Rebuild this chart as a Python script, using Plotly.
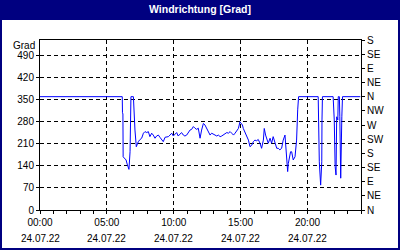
import plotly.graph_objects as go

day = "2022-07-24"
times = ["00:00", "06:09", "06:10", "06:12", "06:13", "06:21", "06:26", "06:31", "06:36", "06:39",
         "06:44", "06:47", "06:48", "06:59", "07:02", "07:06", "07:12", "07:21", "07:29", "07:36",
         "07:44", "07:51", "07:59", "08:06", "08:13", "08:21", "08:28", "08:36", "08:43", "08:51",
         "08:58", "09:06", "09:13", "09:21", "09:28", "09:36", "09:43", "09:51", "09:58", "10:05",
         "10:13", "10:20", "10:28", "10:35", "10:43", "10:50", "10:58", "11:05", "11:13", "11:20",
         "11:28", "11:35", "11:43", "11:50", "11:58", "12:05", "12:13", "12:20", "12:28", "12:35",
         "12:43", "12:50", "12:58", "13:05", "13:13", "13:20", "13:28", "13:35", "13:43", "13:50",
         "13:58", "14:05", "14:13", "14:20", "14:28", "14:35", "14:50", "14:57", "15:08", "15:12",
         "15:20", "15:27", "15:35", "15:42", "15:50", "15:57", "16:04", "16:12", "16:19", "16:27",
         "16:34", "16:42", "16:46", "16:52", "16:59", "17:04", "17:12", "17:19", "17:26", "17:34",
         "17:42", "17:49", "17:56", "18:04", "18:11", "18:19", "18:23", "18:26", "18:31", "18:34",
         "18:38", "18:44", "18:49", "18:56", "19:04", "19:11", "19:16", "19:19", "19:20", "20:48",
         "20:49", "20:53", "20:59", "21:04", "21:05", "21:07", "21:55", "21:56", "22:00", "22:04",
         "22:08", "22:11", "22:16", "22:18", "22:23", "22:25", "22:26", "22:29", "22:34", "22:37",
         "23:57"]
values = [360, 360, 309, 305, 169, 164, 159, 146, 133, 129,
          185, 275, 360, 360, 308, 254, 201, 217, 224, 228,
          244, 249, 246, 249, 233, 244, 238, 228, 235, 238,
          231, 224, 217, 231, 233, 233, 238, 244, 235, 241,
          246, 235, 241, 246, 238, 235, 238, 246, 254, 256,
          265, 260, 256, 260, 228, 254, 275, 270, 260, 249,
          238, 244, 241, 238, 235, 238, 233, 235, 238, 241,
          246, 244, 249, 244, 238, 244, 259, 280, 270, 259,
          244, 233, 222, 201, 206, 217, 222, 220, 224, 212,
          196, 222, 259, 238, 222, 212, 228, 212, 233, 217,
          196, 196, 191, 196, 222, 238, 196, 154, 122, 148,
          169, 185, 185, 159, 169, 222, 318, 349, 360, 360,
          286, 153, 79, 153, 286, 360, 360, 318, 286, 138,
          111, 296, 286, 360, 360, 296, 169, 101, 296, 360,
          360]

title = "Windrichtung [Grad]"
y_label = "Grad"
x_tick_times = ["00:00", "05:00", "10:00", "15:00", "20:00"]
x_tick_date = "24.07.22"
left_ticks = [0, 70, 140, 210, 280, 350, 420, 490]
right_ticks = [0, 45, 90, 135, 180, 225, 270, 315, 360, 405, 450, 495, 540]
right_labels = ["N", "NE", "E", "SE", "S", "SW", "W", "NW", "N", "NE", "E", "SE", "S"]

NAVY = "#000080"
FONT = "Liberation Sans"
W, H = 400, 250
ML, MR, MT, MB = 40, 39, 40, 40
PW, PH = W - ML - MR, H - MT - MB

def px(xp):
    return (xp - ML) / PW

def py(yp):
    return (H - MB - yp) / PH

x = [f"{day} {t}" for t in times]
tickvals = [f"{day} {t}" for t in x_tick_times]

fig = go.Figure()
fig.add_trace(go.Scatter(x=x, y=values, mode="lines",
                         line=dict(color="#0000ff", width=1), showlegend=False,
                         hoverinfo="skip"))
fig.add_trace(go.Scatter(x=[x[0]], y=[0], yaxis="y2", mode="markers",
                         marker=dict(opacity=0), showlegend=False, hoverinfo="skip"))

fig.update_layout(
    width=W, height=H,
    margin=dict(l=ML, r=MR, t=MT, b=MB, pad=0),
    paper_bgcolor="white", plot_bgcolor="white",
    font=dict(family=FONT, size=10, color="black"),
    xaxis=dict(type="date", range=[f"{day} 00:00", "2022-07-25 00:00"],
               tickmode="array", tickvals=tickvals, ticktext=x_tick_times,
               ticks="outside", ticklen=3, tickcolor="black",
               showline=True, linecolor="black", linewidth=1, mirror=True,
               showgrid=True, gridcolor="black", gridwidth=1, griddash="4px,3px",
               zeroline=False,
               minor=dict(tickmode="linear", tick0=f"{day} 00:00", dtick=3600000,
                          ticks="outside", ticklen=3, tickcolor="black", showgrid=False),
               fixedrange=True),
    yaxis=dict(range=[0, 540], tickmode="array", tickvals=left_ticks,
               ticks="outside", ticklen=3, tickcolor="black",
               showline=True, linecolor="black", linewidth=1,
               showgrid=True, gridcolor="black", gridwidth=1, griddash="4px,3px",
               zeroline=False, fixedrange=True),
    yaxis2=dict(range=[0, 540], overlaying="y", side="right",
                tickmode="array", tickvals=right_ticks, ticktext=right_labels,
                ticks="outside", ticklen=3, tickcolor="black",
                showline=True, linecolor="black", linewidth=1,
                showgrid=False, zeroline=False, fixedrange=True),
)

shapes = [
    dict(type="rect", xref="paper", yref="paper", x0=px(0), x1=px(W), y0=py(20), y1=py(0),
         fillcolor=NAVY, line=dict(width=0), layer="below"),
    dict(type="rect", xref="paper", yref="paper", x0=px(0), x1=px(2), y0=py(H), y1=py(0),
         fillcolor=NAVY, line=dict(width=0), layer="below"),
    dict(type="rect", xref="paper", yref="paper", x0=px(W - 2), x1=px(W), y0=py(H), y1=py(0),
         fillcolor=NAVY, line=dict(width=0), layer="below"),
    dict(type="rect", xref="paper", yref="paper", x0=px(0), x1=px(W), y0=py(H), y1=py(H - 2),
         fillcolor=NAVY, line=dict(width=0), layer="below"),
]
fig.update_layout(shapes=shapes)

annotations = [
    dict(text=f"<b>{title}</b>", xref="paper", yref="paper", x=px(W / 2), y=py(9),
         xanchor="center", yanchor="middle", showarrow=False,
         font=dict(family=FONT, size=10.5, color="white")),
    dict(text=y_label, xref="paper", yref="paper", x=px(37), y=py(45),
         xanchor="right", yanchor="middle", showarrow=False,
         font=dict(family=FONT, size=10, color="black")),
]
for tv in tickvals:
    annotations.append(dict(text=x_tick_date, xref="x", yref="paper", x=tv, y=py(238),
                            xanchor="center", yanchor="middle", showarrow=False,
                            font=dict(family=FONT, size=10, color="black")))
fig.update_layout(annotations=annotations)

fig.write_html("out.html")
